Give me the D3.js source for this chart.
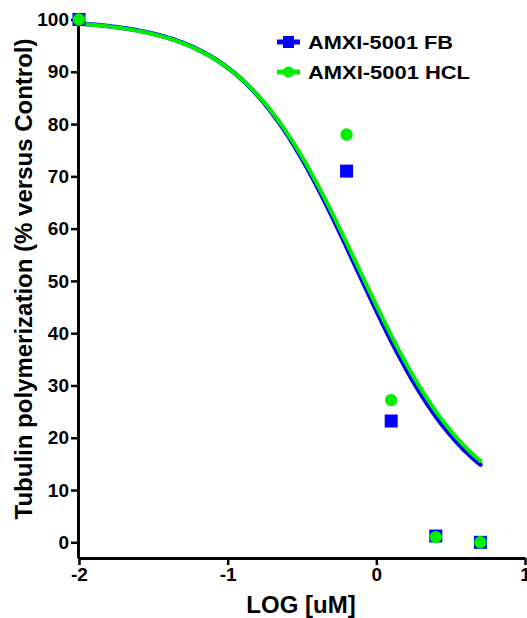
<!DOCTYPE html>
<html><head><meta charset="utf-8">
<script src="https://cdn.jsdelivr.net/npm/d3@7"></script>
<style>html,body{margin:0;padding:0;background:#fff;}svg{display:block;font-family:"Liberation Sans",Arial,sans-serif;font-weight:bold;}</style>
</head><body><svg id="c" width="527" height="618"></svg>
<script>
// Data
const logConc = [-2, -0.2, 0.1, 0.4, 0.7];
const fbValues = [100, 71, 23.2, 1.2, 0];
const hclValues = [100, 78, 27.2, 1.0, 0];
const seriesNames = ["AMXI-5001 FB", "AMXI-5001 HCL"];
const seriesColors = ["#0000ff", "#00ee00"];
// Fitted four-parameter logistic curve parameters [top, bottom, logIC50, hillSlope]
const fbFit = [100, 5, -0.135, 1.12];
const hclFit = [100, 5, -0.12, 1.1];
const xTicks = [-2, -1, 0, 1];
const yTicks = [0, 10, 20, 30, 40, 50, 60, 70, 80, 90, 100];

const svg = d3.select("#c");
const x = d3.scaleLinear().domain([-2, 1]).range([79, 525]);
const y = d3.scaleLinear().domain([-3, 100]).range([558, 19.5]);

function curve(p) {
  const [top, bottom, c, h] = p;
  return d3.range(-2, 0.7001, 0.01).map(v => [v, bottom + (top - bottom) / (1 + Math.pow(10, (v - c) * h))]);
}
const line = d3.line().x(d => x(d[0])).y(d => y(d[1])).curve(d3.curveLinear);

// Axes
const yAxis = svg.append("g").attr("transform", "translate(78,0)")
  .call(d3.axisLeft(y).tickValues(yTicks).tickSize(7).tickPadding(2).tickSizeOuter(0));
const xAxis = svg.append("g").attr("transform", "translate(0,558)")
  .call(d3.axisBottom(x).tickValues(xTicks).tickSize(7).tickPadding(3).tickSizeOuter(0).tickFormat(d3.format("d")));
[yAxis, xAxis].forEach(g => {
  g.select(".domain").attr("stroke", "#000").attr("stroke-width", 3);
  g.selectAll(".tick line").attr("stroke", "#000").attr("stroke-width", 2.5);
  g.selectAll(".tick text").attr("fill", "#000").style("font-size", "19px").style("font-weight", "bold")
   .style("font-family", '"Liberation Sans",Arial,sans-serif');
});
xAxis.selectAll(".tick text").text(d => d < 0 ? "-" + Math.abs(d) : d);

// Axis titles
svg.append("text").attr("x", 301).attr("y", 613).attr("text-anchor", "middle")
  .style("font-size", "24px").text("LOG [uM]");
svg.append("text").attr("transform", "translate(32,279) rotate(-90)").attr("text-anchor", "middle")
  .style("font-size", "24px").text("Tubulin polymerization (% versus Control)");

// Curves
svg.append("path").datum(curve(fbFit)).attr("d", line).attr("fill", "none")
  .attr("stroke", seriesColors[0]).attr("stroke-width", 4.5).attr("stroke-linecap", "round");
svg.append("path").datum(curve(hclFit)).attr("d", line).attr("fill", "none")
  .attr("stroke", seriesColors[1]).attr("stroke-width", 4).attr("stroke-linecap", "round");

// Points
svg.append("g").selectAll("rect").data(logConc.map((v, i) => [v, fbValues[i]])).join("rect")
  .attr("x", d => x(d[0]) - 6.5).attr("y", d => y(d[1]) - 6.5).attr("width", 13).attr("height", 13)
  .attr("fill", seriesColors[0]);
svg.append("g").selectAll("circle").data(logConc.map((v, i) => [v, hclValues[i]])).join("circle")
  .attr("cx", d => x(d[0])).attr("cy", d => y(d[1])).attr("r", 6.2)
  .attr("fill", seriesColors[1]);

// Legend
const leg = svg.append("g");
const legWidths = [145, 162];
seriesNames.forEach((name, i) => {
  const cy = 42 + i * 30;
  leg.append("line").attr("x1", 277).attr("x2", 300).attr("y1", cy).attr("y2", cy)
    .attr("stroke", seriesColors[i]).attr("stroke-width", 5);
  if (i === 0) leg.append("rect").attr("x", 283).attr("y", cy - 6).attr("width", 11).attr("height", 12).attr("fill", seriesColors[i]);
  else leg.append("circle").attr("cx", 288.5).attr("cy", cy).attr("r", 5.5).attr("fill", seriesColors[i]);
  leg.append("text").attr("x", 308).attr("y", cy + 7).style("font-size", "19px")
    .attr("textLength", legWidths[i]).attr("lengthAdjust", "spacingAndGlyphs").text(name);
});
</script></body></html>
